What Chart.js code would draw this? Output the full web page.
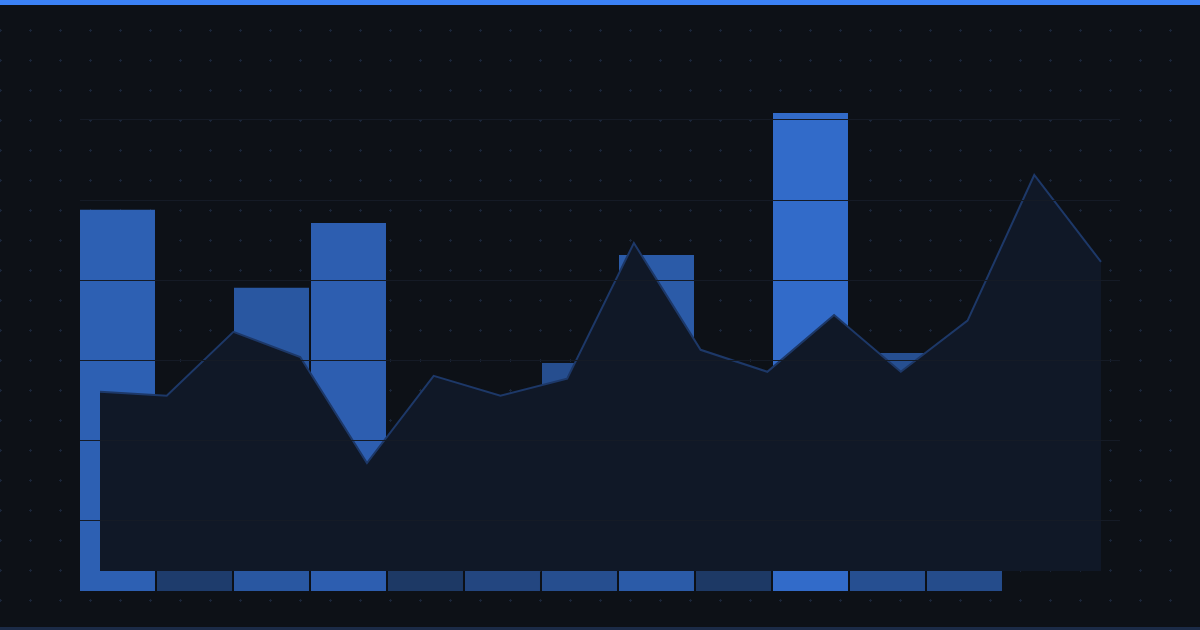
<!DOCTYPE html>
<html>
<head>
<meta charset="utf-8">
<script src="https://cdn.jsdelivr.net/npm/chart.js@4/dist/chart.umd.min.js"></script>
<style>
  html, body { margin: 0; padding: 0; background: #0d1117; }
  #wrap { position: relative; width: 1200px; height: 630px; overflow: hidden; }
  #topbar { position: absolute; left: 0; top: 0; width: 1200px; height: 5px; background: #3b82f6; }
  #bottombar { position: absolute; left: 0; bottom: 0; width: 1200px; height: 3px; background: #1b2b47; }
</style>
</head>
<body>
<div id="wrap">
  <canvas id="chart" width="1200" height="630"></canvas>
  <div id="topbar"></div>
  <div id="bottombar"></div>
</div>
<script>
// bar series (12 columns)
let barValues = [95.3, 19, 75.8, 92, 12, 40.8, 57, 84, 12, 119.5, 59.5, 52.5];
// area series (16 points)
let areaValues = [44.8, 43.8, 59.8, 53.5, 27, 48.8, 43.8, 48.1, 82, 55.3, 49.8, 64, 49.8, 62.6, 99, 77.3];
// horizontal guide lines
let gridTicks = [0, 1, 2, 3, 4, 5];

// bar colour gets brighter with the value
let maxBar = Math.max(...barValues);
let barColors = barValues.map(v => {
    let a = 0.3 + 0.5 * v / maxBar;
    let r = Math.round(13 + a * (59 - 13));
    let g = Math.round(17 + a * (130 - 17));
    let b = Math.round(23 + a * (246 - 23));
    return `rgb(${r}, ${g}, ${b})`;
});

// dotted "plus" background
const dotsBg = {
    id: 'dotsBg',
    beforeDraw(chart) {
        let c = chart.ctx;
        c.save();
        c.fillStyle = '#0d1117';
        c.fillRect(0, 0, chart.width, chart.height);
        c.fillStyle = '#1a2538';
        for (let y = 30; y < chart.height; y += 30) {
            for (let x = 0; x < chart.width; x += 30) {
                c.fillRect(x - 1, y, 3, 1);
                c.fillRect(x, y - 1, 1, 3);
            }
        }
        c.restore();
    }
};

const ctx = document.getElementById('chart').getContext('2d');
const myChart = new Chart(ctx, {
    type: 'bar',
    data: {
        datasets: [
            {
                type: 'bar',
                data: barValues.map((v, i) => ({ x: i, y: v })),
                backgroundColor: barColors,
                borderWidth: 0,
                grouped: false,
                categoryPercentage: 1,
                barPercentage: 75 / 77,
                xAxisID: 'x',
                yAxisID: 'y',
                order: 2
            },
            {
                type: 'line',
                data: areaValues.map((v, i) => ({ x: i, y: v })),
                borderColor: '#1d3868',
                borderWidth: 2,
                backgroundColor: '#101827',
                fill: 'origin',
                tension: 0,
                pointRadius: 0,
                xAxisID: 'x2',
                yAxisID: 'y2',
                order: 1
            }
        ]
    },
    options: {
        responsive: false,
        devicePixelRatio: 1,
        animation: false,
        layout: { padding: { left: 80, right: 80, top: 100, bottom: 39 } },
        plugins: { legend: { display: false }, tooltip: { enabled: false } },
        scales: {
            x: { type: 'linear', display: false, offset: false, grid: { offset: false }, min: -0.487, max: 13.0195, ticks: { stepSize: 1 } },
            x2: { type: 'linear', display: false, offset: false, grid: { offset: false }, min: -0.2997, max: 15.2847 },
            y: { display: false, min: 0, max: 122.75 },
            y2: { display: false, min: -5, max: 117.75 },
            yg: {
                position: 'left',
                min: -0.8875,
                max: 5.25,
                z: 1,
                afterBuildTicks: (scale) => { scale.ticks = gridTicks.map(v => ({ value: v })); },
                afterFit: (scale) => { scale.width = 0; },
                ticks: { display: false },
                border: { display: false },
                // lines sit on top of bars and area
                grid: { color: '#151b26', lineWidth: 1, drawTicks: false, z: 1 }
            }
        }
    },
    plugins: [dotsBg]
});
</script>
</body>
</html>
